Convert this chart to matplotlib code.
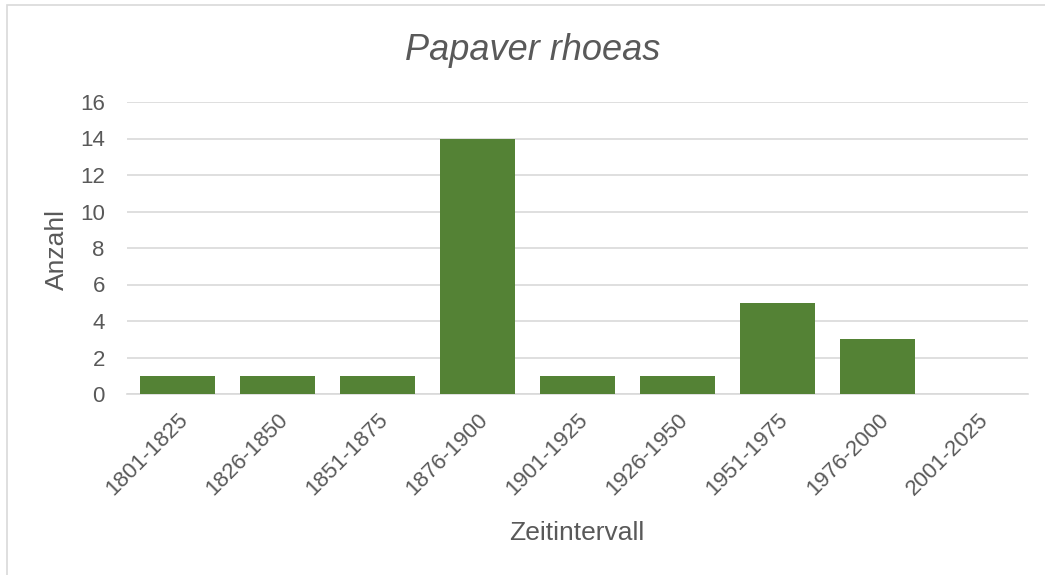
import matplotlib
matplotlib.use("Agg")
from matplotlib import pyplot as plt
from matplotlib.patches import Rectangle

categories = ['1801-1825', '1826-1850', '1851-1875', '1876-1900', '1901-1925',
              '1926-1950', '1951-1975', '1976-2000', '2001-2025']
counts = [1, 1, 1, 14, 1, 1, 5, 3, 0]
yticks = [0, 2, 4, 6, 8, 10, 12, 14, 16]

plt.rcParams['font.family'] = ['Liberation Sans', 'DejaVu Sans']
text_color = '#595959'
grid_color = '#D9D9D9'

fig = plt.figure(figsize=(10.45, 5.75), dpi=100)
ax = fig.add_axes([127 / 1045, 1 - 394 / 575, (1028 - 127) / 1045, (394 - 102) / 575])

x = range(len(categories))
ax.bar(x, counts, width=0.75, color='#548235', zorder=3)

ax.set_xlim(-0.5, len(categories) - 0.5)
ax.set_ylim(0, 16)
ax.set_yticks(yticks)
ax.set_xticks(list(x))
ax.set_xticklabels(categories, rotation=45, ha='right', rotation_mode='anchor')
ax.tick_params(axis='both', length=0, labelsize=16, colors=text_color)
ax.tick_params(axis='x', pad=11)
ax.tick_params(axis='y', pad=16)

ax.grid(axis='y', color=grid_color, linewidth=1.2, zorder=0)
for side in ['top', 'right', 'left']:
    ax.spines[side].set_visible(False)
ax.spines['bottom'].set_color(grid_color)
ax.spines['bottom'].set_linewidth(1.2)

ax.set_ylabel('Anzahl', fontsize=19, color=text_color)
ax.set_xlabel('Zeitintervall', fontsize=19, color=text_color)
ax.xaxis.set_label_coords((577 - 127) / (1028 - 127), (394 - 533) / (394 - 102))
ax.yaxis.set_label_coords((57 - 127) / (1028 - 127), (394 - 249) / (394 - 102))
ax.xaxis.label.set_va('center')
ax.yaxis.label.set_va('center')

fig.text(533 / 1045, 1 - 50 / 575, 'Papaver rhoeas', fontsize=26, style='italic',
         color=text_color, ha='center', va='center')

# chart frame like the excel export
fig.patches.append(Rectangle((7 / 1045, -0.1), 1.2, 1 - 5 / 575 + 0.1, transform=fig.transFigure,
                             fill=False, edgecolor=grid_color, linewidth=1.2))

fig.savefig('out.png', dpi=100)
